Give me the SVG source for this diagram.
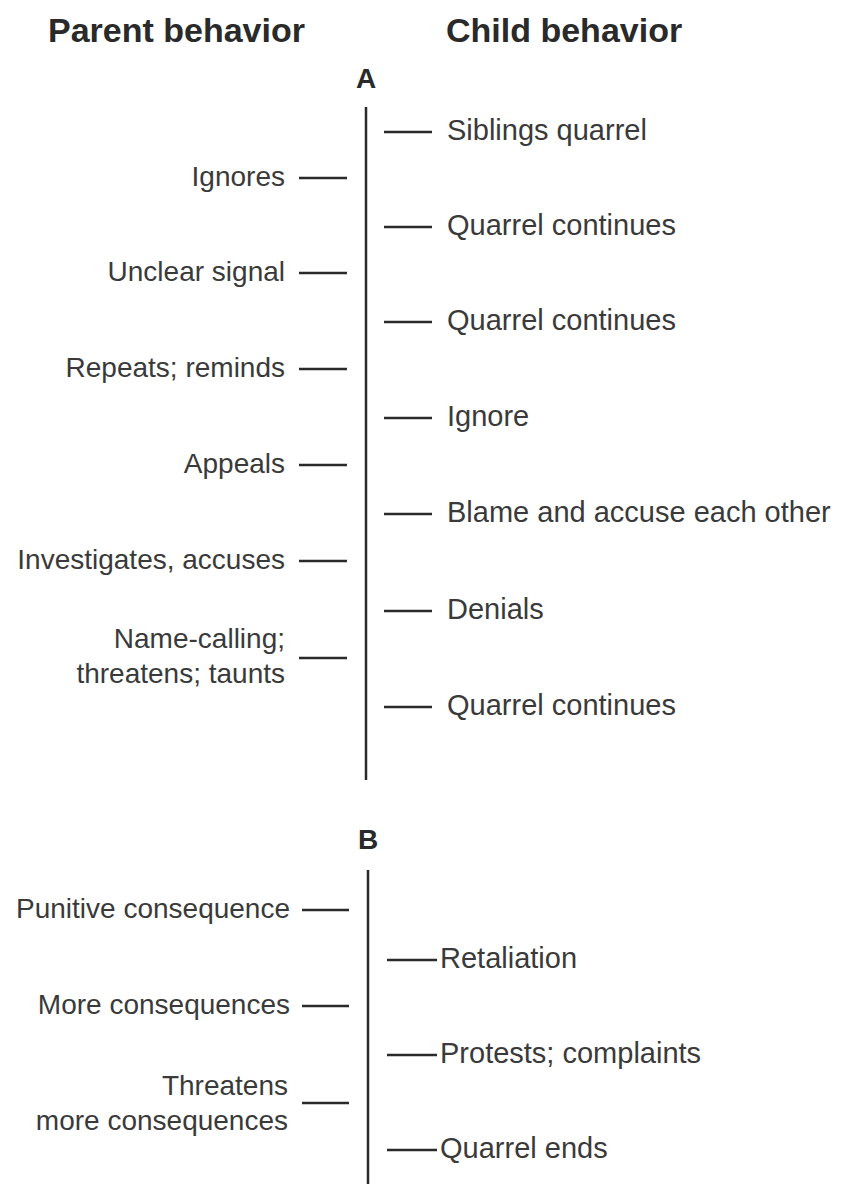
<svg xmlns="http://www.w3.org/2000/svg" width="841" height="1184" viewBox="0 0 841 1184">
  <style>
    .hdr { font-family: "Liberation Sans", Arial, sans-serif; font-weight: bold; font-size: 34px; fill: #2a2a2a; }
    .sec { font-family: "Liberation Sans", Arial, sans-serif; font-weight: bold; font-size: 28px; fill: #2a2a2a; text-anchor: middle; }
    .par { font-family: "Liberation Sans", Arial, sans-serif; font-size: 28px; fill: #3a3a3a; text-anchor: end; }
    .chd { font-family: "Liberation Sans", Arial, sans-serif; font-size: 29px; fill: #3a3a3a; }
    .axis { stroke: #2a2a2a; stroke-width: 2.5; fill: none; }
    .tick { stroke: #2a2a2a; stroke-width: 2.5; fill: none; }
  </style>
  <rect width="841" height="1184" fill="#ffffff"/>

  <!-- column headings -->
  <text class="hdr" x="48" y="42">Parent behavior</text>
  <text class="hdr" x="446" y="42">Child behavior</text>

  <!-- sequence A -->
  <g id="section-A">
    <text class="sec" x="366" y="88">A</text>
  </g>

  <g id="connectors">
    <line class="axis" x1="366" y1="107" x2="366" y2="780"/>
    <line class="axis" x1="368" y1="870" x2="368" y2="1184"/>
    <!-- A: parent ticks -->
    <line class="tick" x1="299" y1="178" x2="347" y2="178"/>
    <line class="tick" x1="299" y1="273" x2="347" y2="273"/>
    <line class="tick" x1="299" y1="369" x2="347" y2="369"/>
    <line class="tick" x1="299" y1="465" x2="347" y2="465"/>
    <line class="tick" x1="299" y1="561" x2="347" y2="561"/>
    <line class="tick" x1="299" y1="658" x2="347" y2="658"/>
    <!-- A: child ticks -->
    <line class="tick" x1="384" y1="132" x2="432" y2="132"/>
    <line class="tick" x1="384" y1="227" x2="432" y2="227"/>
    <line class="tick" x1="384" y1="322" x2="432" y2="322"/>
    <line class="tick" x1="384" y1="418" x2="432" y2="418"/>
    <line class="tick" x1="384" y1="514" x2="432" y2="514"/>
    <line class="tick" x1="384" y1="611" x2="432" y2="611"/>
    <line class="tick" x1="384" y1="707" x2="432" y2="707"/>
    <!-- B: parent ticks -->
    <line class="tick" x1="302" y1="910" x2="349" y2="910"/>
    <line class="tick" x1="302" y1="1006" x2="349" y2="1006"/>
    <line class="tick" x1="302" y1="1103" x2="349" y2="1103"/>
    <!-- B: child ticks -->
    <line class="tick" x1="387" y1="960" x2="437" y2="960"/>
    <line class="tick" x1="387" y1="1055" x2="437" y2="1055"/>
    <line class="tick" x1="387" y1="1150" x2="437" y2="1150"/>
  </g>

  <!-- A: parent behaviors -->
  <g id="a-parent-ignores"><text class="par" x="285" y="186">Ignores</text></g>
  <g id="a-parent-unclear"><text class="par" x="285" y="281">Unclear signal</text></g>
  <g id="a-parent-repeats"><text class="par" x="285" y="377">Repeats; reminds</text></g>
  <g id="a-parent-appeals"><text class="par" x="285" y="473">Appeals</text></g>
  <g id="a-parent-investigates"><text class="par" x="285" y="569">Investigates, accuses</text></g>
  <g id="a-parent-namecalling">
    <text class="par" x="285" y="648">Name-calling;</text>
    <text class="par" x="285" y="683">threatens; taunts</text>
  </g>

  <!-- A: child behaviors -->
  <g id="a-child-quarrel"><text class="chd" x="447" y="140">Siblings quarrel</text></g>
  <g id="a-child-continues-1"><text class="chd" x="447" y="235">Quarrel continues</text></g>
  <g id="a-child-continues-2"><text class="chd" x="447" y="330">Quarrel continues</text></g>
  <g id="a-child-ignore"><text class="chd" x="447" y="426">Ignore</text></g>
  <g id="a-child-blame"><text class="chd" x="447" y="522">Blame and accuse each other</text></g>
  <g id="a-child-denials"><text class="chd" x="447" y="619">Denials</text></g>
  <g id="a-child-continues-3"><text class="chd" x="447" y="715">Quarrel continues</text></g>

  <!-- sequence B -->
  <g id="section-B">
    <text class="sec" x="368" y="849">B</text>
  </g>

  <!-- B: parent behaviors -->
  <g id="b-parent-punitive"><text class="par" x="290" y="918">Punitive consequence</text></g>
  <g id="b-parent-more"><text class="par" x="290" y="1014">More consequences</text></g>
  <g id="b-parent-threatens">
    <text class="par" x="288" y="1095">Threatens</text>
    <text class="par" x="288" y="1130">more consequences</text>
  </g>

  <!-- B: child behaviors -->
  <g id="b-child-retaliation"><text class="chd" x="440" y="968">Retaliation</text></g>
  <g id="b-child-protests"><text class="chd" x="440" y="1063">Protests; complaints</text></g>
  <g id="b-child-ends"><text class="chd" x="440" y="1158">Quarrel ends</text></g>
</svg>
